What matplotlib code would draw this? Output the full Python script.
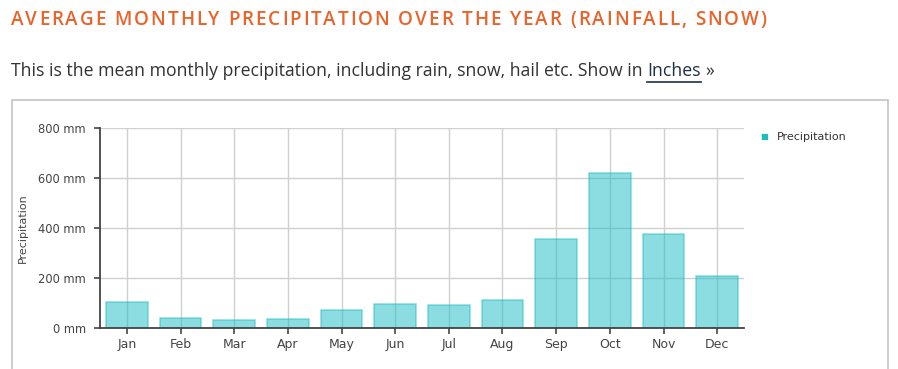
"""Average monthly precipitation bar chart."""

import matplotlib.pyplot as plt
from matplotlib.font_manager import FontProperties, findfont, get_font
from matplotlib.patches import Rectangle

months = ["Jan", "Feb", "Mar", "Apr", "May", "Jun",
          "Jul", "Aug", "Sep", "Oct", "Nov", "Dec"]
precip_mm = [103, 40, 29, 35, 70, 95, 91, 111, 356, 620, 373, 205]
y_ticks = [0, 200, 400, 600, 800]
y_labels = [f"{v} mm" for v in y_ticks]

TITLE = "AVERAGE MONTHLY PRECIPITATION OVER THE YEAR (RAINFALL, SNOW)"
SUBTITLE = "This is the mean monthly precipitation, including rain, snow, hail etc. Show in "

W, H = 898, 369
DPI = 100


def spaced_text(fig, x_px, y_px, s, spacing_px, family, weight, size, color):
    """Draw text one char at a time using glyph advances plus letter spacing."""
    fp = FontProperties(family=family, weight=weight, size=size)
    font = get_font(findfont(fp))
    font.set_size(size, DPI)
    x = x_px
    for ch in s:
        fig.text(x / W, 1 - y_px / H, ch, va="center", ha="left",
                 fontproperties=fp, color=color)
        g = font.load_char(ord(ch))
        x += g.linearHoriAdvance / 65536 + spacing_px
    return x


def main() -> None:
    fig = plt.figure(figsize=(W / DPI, H / DPI), dpi=DPI)
    fig.patch.set_facecolor("white")

    # header texts
    spaced_text(fig, 11, 20, TITLE, 1.9, "Open Sans", "semibold", 13.6, "#E9632A")

    sub_kw = dict(family="Open Sans", fontsize=12.7, va="center", ha="left")
    t = fig.text(11 / W, 1 - 71 / H, SUBTITLE, color="#333333", **sub_kw)
    fig.canvas.draw()
    bb = t.get_window_extent()
    t2 = fig.text(bb.x1 / W, 1 - 71 / H, "Inches", color="#1E3046", **sub_kw)
    fig.canvas.draw()
    bb2 = t2.get_window_extent()
    fig.add_artist(plt.Line2D([bb2.x0 / W, bb2.x1 / W], [1 - 82 / H, 1 - 82 / H],
                              color="#1E3046", lw=1.2))
    fig.text(bb2.x1 / W + 5 / W, 1 - 71 / H, "»", color="#333333", **sub_kw)

    # chart frame
    fig.add_artist(Rectangle((12 / W, -0.1), 876 / W, 0.1 + (H - 100) / H,
                             transform=fig.transFigure, fill=False,
                             edgecolor="#C4C4C4", lw=1.2))

    ax = fig.add_axes([100 / W, (H - 327.7) / H, 644 / W, 200 / H])
    x = range(len(months))
    ax.bar(x, precip_mm, width=0.78, color="#1BBCC4", alpha=0.5,
           edgecolor="#22BFC6", linewidth=1.2, zorder=3, label="Precipitation")
    ax.set_xlim(-0.5, 11.5)
    ax.set_ylim(0, 800)
    ax.set_xticks(list(x))
    ax.set_xticklabels(months, family="DejaVu Sans", fontsize=9)
    ax.set_yticks(y_ticks)
    ax.set_yticklabels(y_labels, family="DejaVu Sans", fontsize=8.3)
    ax.grid(True, color="#D0D0D0", lw=1, zorder=0)
    ax.set_axisbelow(True)
    for s in ("top", "right"):
        ax.spines[s].set_visible(False)
    for s in ("left", "bottom"):
        ax.spines[s].set_color("#444444")
        ax.spines[s].set_linewidth(1.3)
        ax.spines[s].set_zorder(4)
    ax.tick_params(axis="both", colors="#444444", labelcolor="#444444",
                   length=4.5, width=1.2)
    ax.tick_params(axis="y", pad=5.5)
    ax.tick_params(axis="x", pad=3)

    fig.text(23 / W, 1 - 228 / H, "Precipitation", rotation=90, family="DejaVu Sans",
             fontsize=8, color="#444444", va="center", ha="center")

    # legend
    fig.text(764 / W, 1 - 137 / H, "■", fontsize=6, color="#1BBCC4",
             family="DejaVu Sans", va="center", ha="center")
    fig.text(777 / W, 1 - 137 / H, "Precipitation", fontsize=8, color="#333333",
             family="DejaVu Sans", va="center", ha="left")

    fig.savefig("out.png", dpi=DPI)


if __name__ == "__main__":
    main()
